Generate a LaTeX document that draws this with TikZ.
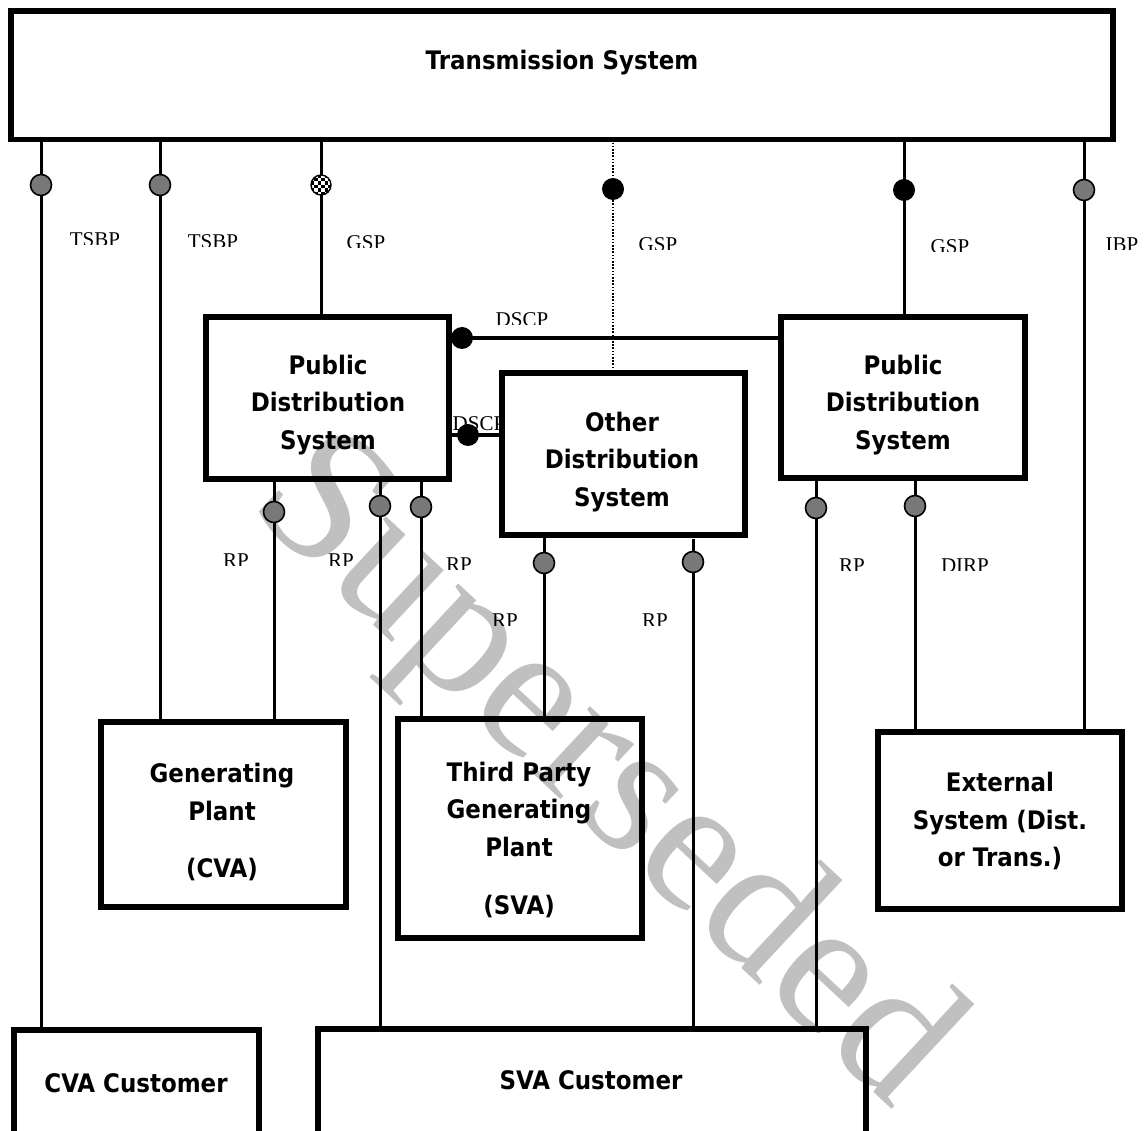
\documentclass[tikz,border=0pt]{standalone}
\usepackage{fontspec}
\setmainfont{Liberation Serif}
\newfontfamily\boxfont[FakeStretch=0.9]{DejaVu Sans}
\definecolor{markgrey}{RGB}{120,120,120}
\definecolor{wmgrey}{RGB}{192,192,192}
\tikzset{
  sysbox/.style={draw, line width=5.5pt, inner sep=0pt, outer sep=0pt},
  boxtext/.style={font=\boxfont\bfseries\fontsize{25.5}{37.5}\selectfont, align=center, inner sep=0pt},
  conn/.style={line width=3pt},
  dotconn/.style={line width=2pt, dash pattern=on 1.6pt off 1.6pt},
  gmark/.style={circle, draw, fill=markgrey, line width=1.6pt, minimum size=21pt, inner sep=0pt},
  bmark/.style={circle, fill=black, minimum size=22pt, inner sep=0pt},
  cmark/.style={circle, draw, line width=1.4pt, minimum size=20pt, inner sep=0pt, fill=white,
    path picture={
      \foreach \i in {-3,...,2}{\foreach \j in {-3,...,2}{
        \pgfmathtruncatemacro\chkv{mod(\i+\j+6,2)}
        \ifnum\chkv=0 \fill[black] ([shift={(\i*3.5,\j*3.5)}]path picture bounding box.center) rectangle ++(3.5,3.5);\fi
      }}}},
  lbl/.style={font=\fontsize{21}{25}\selectfont, inner sep=0pt},
  wmark/.style={font=\fontsize{192}{192}\selectfont, text=wmgrey, rotate=-43, inner sep=0pt}
}
% name, x, baseline, cut, right limit, text
\newcommand\cutlbl[6]{%
  \begin{scope}
    \clip ({#2-80},{#4-40}) rectangle (#5,#4);
    \node[lbl, anchor=base] (#1) at (#2,#3) {#6};
  \end{scope}}
\begin{document}
\begin{tikzpicture}[x=1pt, y=-1pt]
\useasboundingbox (0,0) rectangle (1144,1131);
\fill[white] (0,0) rectangle (1144,1131);

% watermark
\node[wmark] (wm) at (602,775) {Superseded};

% boxes
\node[sysbox, minimum width=1102pt, minimum height=128.5pt] (trans) at (562,75.25) {};
\node[sysbox, minimum width=243pt, minimum height=162pt] (pdsL) at (327.5,398) {};
\node[sysbox, minimum width=243pt, minimum height=162pt] (ods) at (623.5,454) {};
\node[sysbox, minimum width=244pt, minimum height=161pt] (pdsR) at (903,397.5) {};
\node[sysbox, minimum width=245pt, minimum height=185pt] (gen) at (223.5,814.5) {};
\node[sysbox, minimum width=244pt, minimum height=219pt] (tpg) at (520,828.5) {};
\node[sysbox, minimum width=244pt, minimum height=177pt] (ext) at (1000,820.5) {};
\node[sysbox, minimum width=245pt, minimum height=130pt] (cva) at (136.5,1095) {};
\node[sysbox, minimum width=548pt, minimum height=131pt] (sva) at (592,1094.5) {};

% helper coordinates
\coordinate (xcva) at (41,0);
\coordinate (xgen) at (160,0);
\coordinate (xpdsl) at (321,0);
\coordinate (xods) at (613,0);
\coordinate (xpdsr) at (904,0);
\coordinate (xext) at (1084,0);
\coordinate (xrpa) at (274,0);
\coordinate (xrpb) at (380,0);
\coordinate (xrpc) at (421,0);
\coordinate (xrpd) at (544,0);
\coordinate (xrpe) at (693,0);
\coordinate (xrpf) at (816,0);
\coordinate (xdirp) at (915,0);
\coordinate (ydscpa) at (0,338);
\coordinate (ydscpb) at (0,435);

% connectors
\draw[conn] (trans.south -| xcva) -- (cva.north -| xcva);
\draw[conn] (trans.south -| xgen) -- (gen.north -| xgen);
\draw[conn] (trans.south -| xpdsl) -- (pdsL.north -| xpdsl);
\draw[dotconn] (trans.south -| xods) -- (ods.north -| xods);
\draw[conn] (trans.south -| xpdsr) -- (pdsR.north -| xpdsr);
\draw[conn] (trans.south -| xext) -- (ext.north -| xext);
\draw[conn] (pdsL.south -| xrpa) -- (gen.north -| xrpa);
\draw[conn] (pdsL.south -| xrpb) -- (sva.north -| xrpb);
\draw[conn] (pdsL.south -| xrpc) -- (tpg.north -| xrpc);
\draw[conn] (ods.south -| xrpd) -- (tpg.north -| xrpd);
\draw[conn, shorten <=4pt] (ods.south -| xrpe) -- (sva.north -| xrpe);
\draw[conn] (pdsR.south -| xrpf) -- (sva.north -| xrpf);
\draw[conn] (pdsR.south -| xdirp) -- (ext.north -| xdirp);
\draw[line width=3.3pt] (pdsL.east |- ydscpa) -- (pdsR.west |- ydscpa);
\draw[line width=3.3pt] (pdsL.east |- ydscpb) -- (ods.west |- ydscpb);

% markers
\node[gmark] (m1) at (41,185) {};
\node[gmark] (m2) at (160,185) {};
\node[cmark] (m3) at (321,185) {};
\node[bmark] (m4) at (613,189) {};
\node[bmark] (m5) at (904,190) {};
\node[gmark] (m6) at (1084,190) {};
\node[bmark] (m7) at (462,338) {};
\node[gmark] (m9) at (274,512) {};
\node[gmark] (m10) at (380,506) {};
\node[gmark] (m11) at (421,507) {};
\node[gmark] (m12) at (544,563) {};
\node[gmark] (m13) at (693,562) {};
\node[gmark] (m14) at (816,508) {};
\node[gmark] (m15) at (915,506) {};

% small labels
\cutlbl{l1}{95}{247}{245}{175}{TSBP}
\cutlbl{l2}{213}{249}{247}{293}{TSBP}
\cutlbl{l3}{366}{250}{248}{446}{GSP}
\cutlbl{l4}{658}{252}{250}{738}{GSP}
\cutlbl{l5}{950}{254}{252}{1030}{GSP}
\cutlbl{l6}{1122}{252}{250}{1202}{IBP}
\cutlbl{l7}{522}{327}{325}{602}{DSCP}
\cutlbl{l8}{479}{431}{440}{499}{DSCP}
\cutlbl{l9}{236}{567}{565}{316}{RP}
\cutlbl{l10}{341}{567}{565}{421}{RP}
\cutlbl{l11}{459}{571}{569}{539}{RP}
\cutlbl{l12}{505}{627}{625}{585}{RP}
\cutlbl{l13}{655}{627}{625}{735}{RP}
\cutlbl{l14}{852}{572}{570}{932}{RP}
\cutlbl{l15}{965}{572}{570}{1045}{DIRP}
\node[bmark] (m8) at (468,435) {};

% box texts
\node[boxtext] (transT) at (562,63) {Transmission System};
\node[boxtext] (pdsLT) at (328,405) {Public\\Distribution\\System};
\node[boxtext] (odsT) at (622,462) {Other\\Distribution\\System};
\node[boxtext] (pdsRT) at (903,405) {Public\\Distribution\\System};
\node[boxtext] (genT) at (222,822) {Generating\\Plant\\[20pt](CVA)};
\node[boxtext] (tpgT) at (519,840) {Third Party\\Generating\\Plant\\[21pt](SVA)};
\node[boxtext] (extT) at (1000,821) {External\\System (Dist.\\or Trans.)};
\node[boxtext] (cvaT) at (136,1083) {CVA Customer};
\node[boxtext] (svaT) at (591,1080) {SVA Customer};
\end{tikzpicture}
\end{document}
